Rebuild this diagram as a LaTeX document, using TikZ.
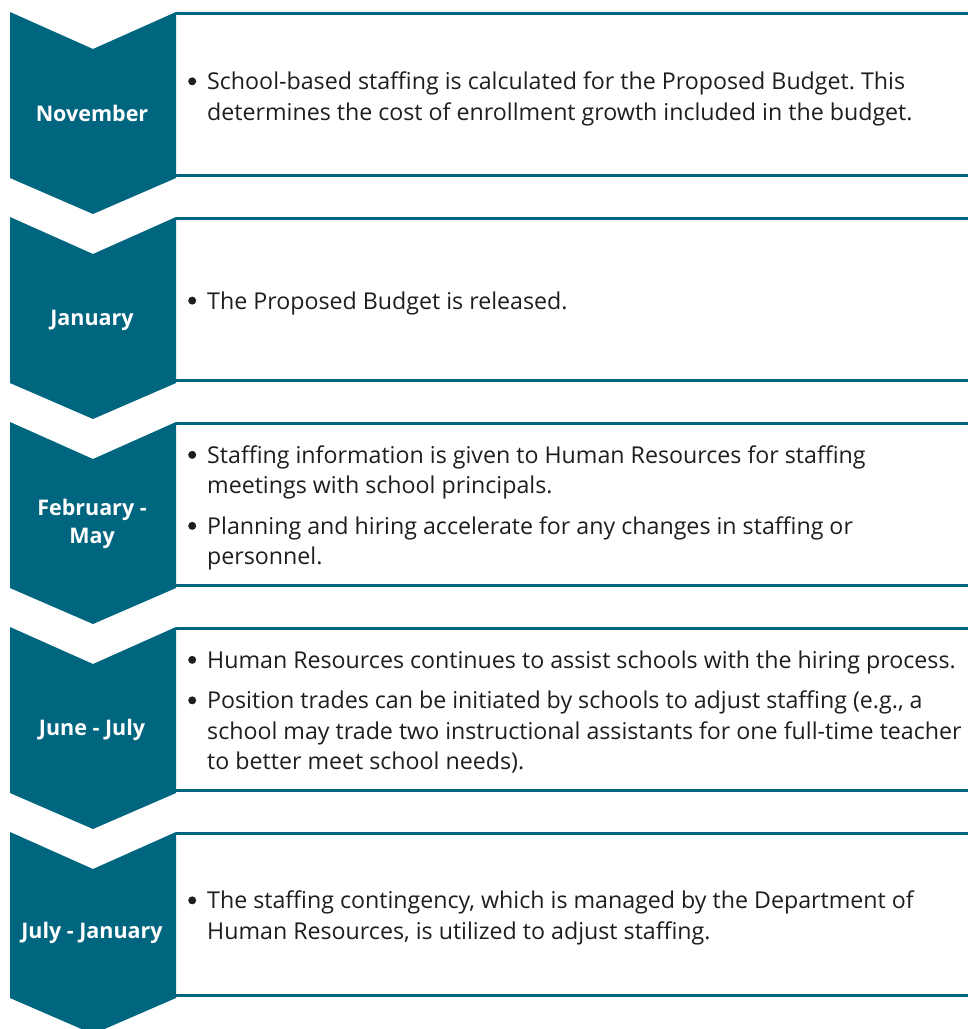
\documentclass[tikz,border=0pt]{standalone}
\usepackage{fontspec}
\setmainfont{Open Sans}
\frenchspacing
\definecolor{stafteal}{HTML}{00657F}
\definecolor{bodytext}{HTML}{1E1E1E}
\tikzset{
  chev/.style={fill=stafteal, draw=none},
  rule/.style={draw=stafteal, line width=3pt},
  month/.style={text=white, font=\bfseries\fontsize{21.5}{28}\selectfont, align=center, inner sep=0pt},
  desc/.style={anchor=west, text=bodytext, inner sep=0pt,
    font=\fontsize{23.2}{30.5}\selectfont},
}
% round list marker, drawn as a filled disc sitting above the baseline
\newcommand\bdot{\tikz[baseline=0pt]\fill[bodytext] (4pt,8.5pt) circle (4pt);}
\begin{document}
\begin{tikzpicture}[x=1pt,y=-1pt]
  \useasboundingbox (0,0) rectangle (968,1029);
  \clip (0,0) rectangle (968,1029);

  % chevrons and the rules framing each text panel
  \fill[chev] (10,12) -- (93,49) -- (176,12) -- (176,178) -- (93,214) -- (10,178) -- cycle;
  \draw[rule] (176,13.5) -- (968,13.5);
  \draw[rule] (176,175.5) -- (968,175.5);

  \fill[chev] (10,217) -- (93,254) -- (176,217) -- (176,383) -- (93,419) -- (10,383) -- cycle;
  \draw[rule] (176,218.5) -- (968,218.5);
  \draw[rule] (176,380.5) -- (968,380.5);

  \fill[chev] (10,422) -- (93,459) -- (176,422) -- (176,588) -- (93,624) -- (10,588) -- cycle;
  \draw[rule] (176,423.5) -- (968,423.5);
  \draw[rule] (176,585.5) -- (968,585.5);

  \fill[chev] (10,627) -- (93,664) -- (176,627) -- (176,793) -- (93,829) -- (10,793) -- cycle;
  \draw[rule] (176,628.5) -- (968,628.5);
  \draw[rule] (176,790.5) -- (968,790.5);

  \fill[chev] (10,832) -- (93,869) -- (176,832) -- (176,998) -- (93,1034) -- (10,998) -- cycle;
  \draw[rule] (176,833.5) -- (968,833.5);
  \draw[rule] (176,995.5) -- (968,995.5);

  % month labels
  \node[month] (m1) at (92,113) {November};
  \node[month] (m2) at (92,320) {January};
  \node[month] (m3) at (92,524) {February -\\May};
  \node[month] (m4) at (92,730) {June - July};
  \node[month] (m5) at (92,933) {July - January};

  % descriptions
  \node[desc] (d1) at (188,99) {\begin{tabular}{@{}l@{\hspace{11pt}}l@{}}
    \bdot & School-based staffing is calculated for the Proposed Budget. This\\
    & determines the cost of enrollment growth included in the budget.
  \end{tabular}};
  \node[desc] (d2) at (188,303) {\begin{tabular}{@{}l@{\hspace{11pt}}l@{}}
    \bdot & The Proposed Budget is released.
  \end{tabular}};
  \node[desc] (d3) at (188,508) {\begin{tabular}{@{}l@{\hspace{11pt}}l@{}}
    \bdot & Staffing information is given to Human Resources for staffing\\
    & meetings with school principals.\\[10pt]
    \bdot & Planning and hiring accelerate for any changes in staffing or\\
    & personnel.
  \end{tabular}};
  \node[desc] (d4) at (188,713) {\begin{tabular}{@{}l@{\hspace{11pt}}l@{}}
    \bdot & Human Resources continues to assist schools with the hiring process.\\[10pt]
    \bdot & Position trades can be initiated by schools to adjust staffing (e.g., a\\
    & school may trade two instructional assistants for one full-time teacher\\
    & to better meet school needs).
  \end{tabular}};
  \node[desc] (d5) at (188,918) {\begin{tabular}{@{}l@{\hspace{11pt}}l@{}}
    \bdot & The staffing contingency, which is managed by the Department of\\
    & Human Resources, is utilized to adjust staffing.
  \end{tabular}};
\end{tikzpicture}
\end{document}
